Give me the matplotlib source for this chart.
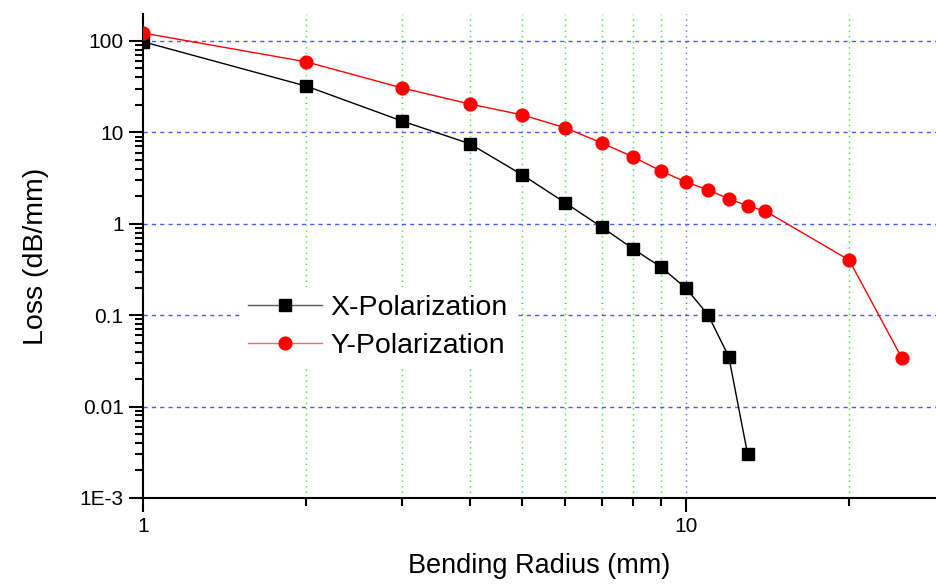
import matplotlib
matplotlib.use("Agg")
import matplotlib.pyplot as plt
from matplotlib.lines import Line2D
from matplotlib.ticker import LogLocator, FixedLocator, NullFormatter, FixedFormatter

plt.rcParams['font.family'] = ['Liberation Sans', 'DejaVu Sans']

x_radius = [1, 2, 3, 4, 5, 6, 7, 8, 9, 10, 11, 12, 13]
x_loss = [98, 32, 13.3, 7.5, 3.42, 1.69, 0.92, 0.53, 0.336, 0.198, 0.1, 0.035, 0.003]
y_radius = [1, 2, 3, 4, 5, 6, 7, 8, 9, 10, 11, 12, 13, 14, 20, 25]
y_loss = [122, 59, 30.6, 20.4, 15.5, 11.2, 7.65, 5.38, 3.78, 2.87, 2.34, 1.87, 1.57, 1.38, 0.40, 0.034]

ytick_vals = [1e-3, 1e-2, 1e-1, 1, 10, 100]
ytick_labels = ['1E-3', '0.01', '0.1', '1', '10', '100']
xtick_vals = [1, 10]
xtick_labels = ['1', '10']

fig = plt.figure(figsize=(9.36, 5.84), dpi=100)
ax = fig.add_axes([143/936, 86/584, (936-143)/936, (498-14)/584])
ax.set_xscale('log')
ax.set_yscale('log')
ax.set_xlim(1, 28.9)
ax.set_ylim(1e-3, 197)

# grid
for gx in [2, 3, 4, 5, 6, 7, 8, 9, 20]:
    ax.axvline(gx, color='#33ee33', lw=1, ls=(0, (1, 3)), zorder=0.5)
ax.axvline(10, color='#6666ff', lw=1, ls=(0, (1, 3)), zorder=0.5)
for gy in [1e-2, 1e-1, 1, 10, 100]:
    ax.axhline(gy, color='#5555ff', lw=1, ls=(0, (3, 3)), zorder=0.5)

ax.plot(x_radius, x_loss, color='black', lw=1, marker='s', ms=8,
        markeredgecolor='black', zorder=3)
ax.plot(y_radius, y_loss, color='red', lw=1, marker='o', ms=9.2,
        markeredgecolor='red', zorder=3)

ax.spines['top'].set_visible(False)
ax.spines['right'].set_visible(False)
for s in ['left', 'bottom']:
    ax.spines[s].set_linewidth(1.5)

ax.xaxis.set_major_locator(FixedLocator(xtick_vals))
ax.xaxis.set_major_formatter(FixedFormatter(xtick_labels))
ax.xaxis.set_minor_locator(FixedLocator([2, 3, 4, 5, 6, 7, 8, 9, 20]))
ax.xaxis.set_minor_formatter(NullFormatter())
ax.yaxis.set_major_locator(FixedLocator(ytick_vals))
ax.yaxis.set_major_formatter(FixedFormatter(ytick_labels))
ax.yaxis.set_minor_locator(LogLocator(base=10, subs=range(2, 10)))
ax.yaxis.set_minor_formatter(NullFormatter())
ax.tick_params(which='major', direction='out', length=10, width=1.5, labelsize=15, pad=4)
ax.tick_params(which='minor', direction='out', length=6, width=1.5)

ax.set_xlabel('Bending Radius (mm)', fontsize=19.5, labelpad=12)
ax.set_ylabel('Loss (dB/mm)', fontsize=20.5, labelpad=22)

h_x = (Line2D([], [], color='black', alpha=0.65, lw=1),
       Line2D([], [], ls='none', marker='s', ms=8, color='black'))
h_y = (Line2D([], [], color='red', alpha=0.6, lw=1),
       Line2D([], [], ls='none', marker='o', ms=9.2, color='red'))
leg = ax.legend([h_x, h_y], ['X-Polarization', 'Y-Polarization'],
                loc='center left', bbox_to_anchor=(0.104, 0.353), frameon=True,
                fontsize=20.5, handlelength=2.6, handletextpad=0.3, borderpad=0.3,
                labelspacing=0.42)
leg.get_frame().set_edgecolor('none')
leg.get_frame().set_facecolor('white')
leg.get_frame().set_alpha(1)

fig.savefig('out.png', dpi=100)
